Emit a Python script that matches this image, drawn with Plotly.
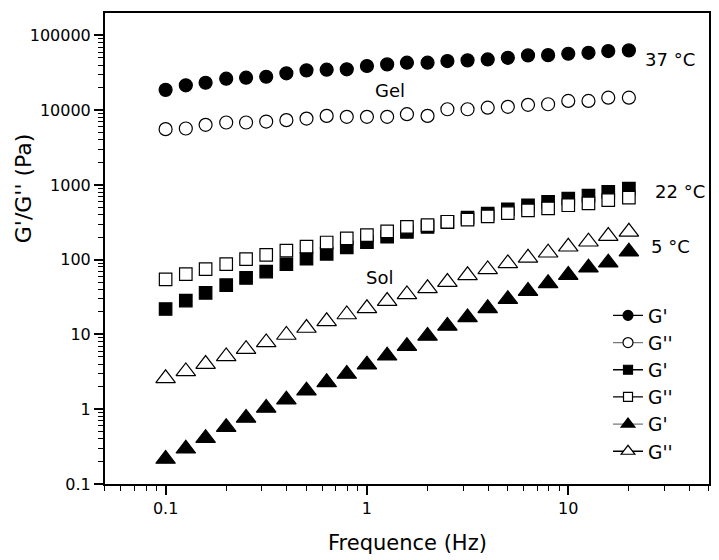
import plotly.graph_objects as go

# ---------------- data ----------------
freq = [0.1, 0.126, 0.158, 0.2, 0.251, 0.316, 0.398, 0.501, 0.631, 0.794,
        1.0, 1.26, 1.58, 2.0, 2.51, 3.16, 3.98, 5.01, 6.31, 7.94,
        10.0, 12.6, 15.8, 20.0]

g1_37 = [18700, 21500, 23300, 26400, 27200, 28000, 31100, 34100, 34800, 35200,
         39000, 41000, 43200, 43200, 45400, 46400, 47800, 50200, 54100, 54500,
         56900, 58600, 61800, 63100]
g2_37 = [5580, 5690, 6370, 6840, 6840, 7050, 7360, 7730, 8390, 8150,
         8150, 8150, 8850, 8390, 10300, 10300, 10800, 11100, 11800, 12000,
         13300, 13300, 14700, 14700]

g1_22 = [21.9, 28.4, 36, 45.7, 57, 69.4, 87, 103, 120, 146,
         172, 203, 236, 275, 318, 366, 414, 473, 535, 593,
         656, 720, 807, 893]
g2_22 = [54.6, 64.3, 75, 87.4, 102, 116, 132, 150, 170, 193,
         213, 240, 275, 291, 322, 344, 380, 421, 458, 485,
         535, 567, 627, 678]

g1_5 = [0.216, 0.296, 0.41, 0.575, 0.766, 1.04, 1.34, 1.77, 2.29, 2.96,
        3.94, 5.19, 6.98, 9.57, 13.0, 16.9, 22.4, 29.6, 38.1, 48.3,
        62.4, 78.2, 91.2, 128]
g2_5 = [2.59, 3.21, 4.02, 5.09, 6.37, 7.82, 9.84, 12.2, 15.0, 18.5,
        22.4, 28.0, 34.4, 41.4, 50.2, 61.8, 74.3, 89.3, 106, 124,
        149, 174, 207, 236]

legend_names = ["G'", "G''", "G'", "G''", "G'", "G''"]
y_tickvals = [0.1, 1, 10, 100, 1000, 10000, 100000]
y_ticktext = ["0.1", "1", "10", "100", "1000", "10000", "100000"]
x_tickvals = [0.1, 1, 10]
x_ticktext = ["0.1", "1", "10"]

FONT = "DejaVu Sans"

series = [
    (g1_37, "circle", 13, "black", "black"),
    (g2_37, "circle", 13, "white", "#777777"),
    (g1_22, "square", 12.5, "black", "black"),
    (g2_22, "square", 12.5, "white", "black"),
    (g1_5, "triangle-up", 17, "black", "#777777"),
    (g2_5, "triangle-up", 17, "white", "black"),
]
legend_sizes = {"circle": 10, "square": 9, "triangle-up": 12}

fig = go.Figure()
for vals, sym, size, fill, lcol in series:
    fig.add_trace(go.Scatter(
        x=freq, y=vals, mode="markers", showlegend=False,
        marker=dict(symbol=sym, size=size, color=fill,
                    line=dict(color="black", width=1.2)),
    ))

for (vals, sym, size, fill, lcol), name in zip(series, legend_names):
    fig.add_trace(go.Scatter(
        x=[None], y=[None], mode="lines+markers", name=name,
        line=dict(color=lcol, width=1.3),
        marker=dict(symbol=sym, size=legend_sizes[sym], color=fill,
                    line=dict(color="black", width=1.2)),
    ))

axis_common = dict(
    showline=True, linecolor="black", linewidth=2, mirror=True,
    showgrid=False, zeroline=False,
    ticks="outside", ticklen=9, tickwidth=1.6, tickcolor="black",
    tickfont=dict(family=FONT, size=16, color="black"),
    minor=dict(ticks="outside", ticklen=5, tickwidth=1.2, tickcolor="black",
               dtick="D1", showgrid=False),
)

fig.update_xaxes(type="log", range=[-1.301, 1.699],
                 tickvals=x_tickvals, ticktext=x_ticktext, **axis_common)
fig.update_yaxes(type="log", range=[-1, 5.3],
                 tickvals=y_tickvals, ticktext=y_ticktext, **axis_common)

ann_font = dict(family=FONT, size=18, color="black")
annotations = [
    dict(text="37 °C", x=0.935, y=0.9006),
    dict(text="Gel", x=0.4719, y=0.8351),
    dict(text="22 °C", x=0.9528, y=0.6216),
    dict(text="5 °C", x=0.9363, y=0.5032),
    dict(text="Sol", x=0.4545, y=0.4376),
]
for a in annotations:
    fig.add_annotation(xref="paper", yref="paper", showarrow=False,
                       xanchor="center", yanchor="middle", font=ann_font, **a)

fig.add_annotation(text="Frequence (Hz)", xref="paper", yref="paper",
                   x=0.5, y=-0.1247, showarrow=False,
                   xanchor="center", yanchor="middle",
                   font=dict(family=FONT, size=21, color="black"))
fig.add_annotation(text="G'/G'' (Pa)", xref="paper", yref="paper",
                   x=-0.1358, y=0.628, showarrow=False, textangle=-90,
                   xanchor="center", yanchor="middle",
                   font=dict(family=FONT, size=22, color="black"))

# the page body has an 8px margin, so the figure is sized/offset to compensate
fig.update_layout(
    width=711, height=552,
    margin=dict(l=97, r=10, t=3, b=76),
    paper_bgcolor="white", plot_bgcolor="white",
    font=dict(family=FONT, color="black"),
    legend=dict(x=0.8328, y=0.3975, xanchor="left", yanchor="top",
                bgcolor="rgba(0,0,0,0)", borderwidth=0,
                font=dict(family=FONT, size=18.6, color="black"),
                itemsizing="trace"),
)

fig.write_html("out.html")
